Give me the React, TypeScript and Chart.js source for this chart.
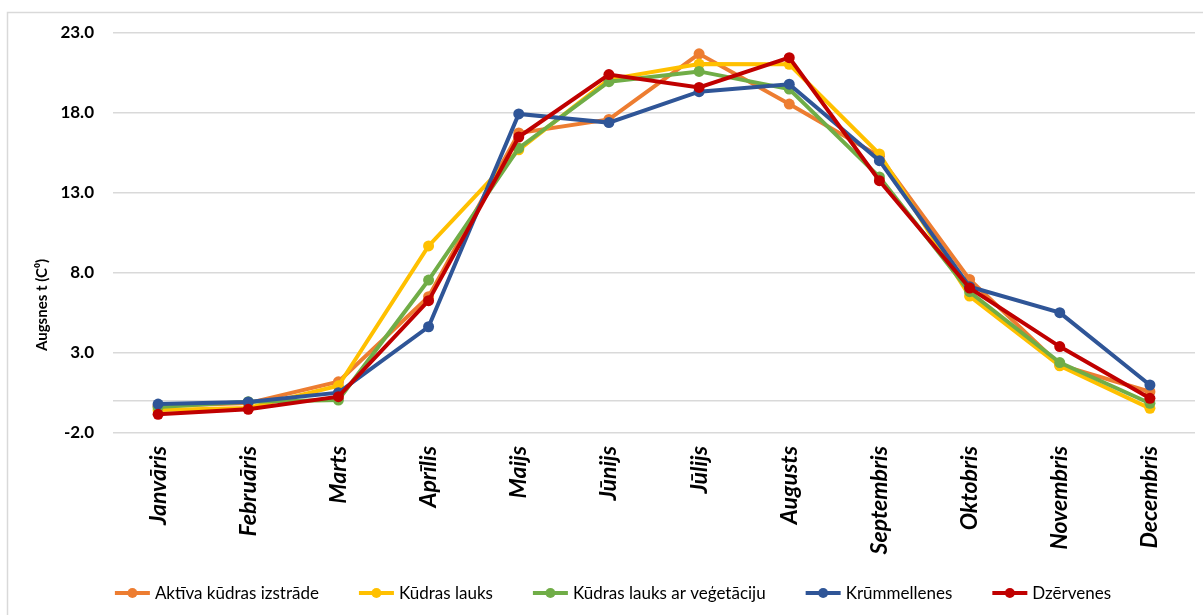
import React, { useEffect, useRef } from 'react';
import { Chart, registerables } from 'chart.js';

Chart.register(...registerables);

const months = ['Janvāris', 'Februāris', 'Marts', 'Aprīlis', 'Maijs', 'Jūnijs', 'Jūlijs', 'Augusts', 'Septembris', 'Oktobris', 'Novembris', 'Decembris'];

const seriesNames = ['Aktīva kūdras izstrāde', 'Kūdras lauks', 'Kūdras lauks ar veģetāciju', 'Krūmmellenes', 'Dzērvenes'];

const aktivaKudrasIzstrade = [-0.31, -0.13, 1.2, 6.52, 16.75, 17.6, 21.7, 18.56, 15.3, 7.6, 2.25, 0.58];
const kudrasLauks = [-0.56, -0.44, 0.95, 9.69, 15.7, 20.1, 21.06, 21.04, 15.44, 6.56, 2.2, -0.46];
const kudrasLauksArVegetaciju = [-0.38, -0.04, 0.06, 7.56, 15.8, 19.96, 20.6, 19.5, 14.0, 6.83, 2.4, -0.14];
const krummellenes = [-0.19, -0.06, 0.52, 4.64, 17.94, 17.4, 19.33, 19.8, 15.02, 7.14, 5.52, 1.0];
const dzervenes = [-0.83, -0.52, 0.27, 6.27, 16.5, 20.4, 19.6, 21.46, 13.77, 7.06, 3.4, 0.17];

const seriesColors = ['#ED7D31', '#FFC000', '#70AD47', '#2F5597', '#C00000'];

const yTicks = [-2, 0, 3, 8, 13, 18, 23];
const yTitle = 'Augsnes t (C⁰)';

const FONT = 'Lato, "Open Sans", sans-serif';
const LEGEND_LINE = 35;
const LEGEND_GAP = 40;
const LEGEND_Y = 593;
const LEGEND_CENTER_X = 613;

const decorPlugin = {
  id: 'decor',
  beforeDraw(chart: any) {
    const ctx = chart.ctx;
    ctx.save();
    ctx.strokeStyle = '#D9D9D9';
    ctx.lineWidth = 1.5;
    ctx.beginPath();
    ctx.moveTo(7.5, chart.height);
    ctx.lineTo(7.5, 12.5);
    ctx.lineTo(chart.width, 12.5);
    ctx.stroke();
    ctx.restore();
  },
  afterDraw(chart: any) {
    const ctx = chart.ctx;
    // y-axis title
    ctx.save();
    ctx.translate(42, 305);
    ctx.rotate(-Math.PI / 2);
    ctx.font = `bold 15px ${FONT}`;
    ctx.fillStyle = '#000';
    ctx.textAlign = 'center';
    ctx.textBaseline = 'middle';
    ctx.fillText(yTitle, 0, 0);
    ctx.restore();

    // legend: line + marker + text
    ctx.save();
    ctx.font = `17px ${FONT}`;
    ctx.textBaseline = 'middle';
    ctx.textAlign = 'left';
    const items = chart.data.datasets.map((ds: any, i: number) => ({
      text: ds.label as string,
      color: seriesColors[i],
      w: ctx.measureText(ds.label).width,
    }));
    const total = items.reduce((s: number, it: any) => s + LEGEND_LINE + 5 + it.w, 0) + LEGEND_GAP * (items.length - 1);
    let x = LEGEND_CENTER_X - total / 2;
    items.forEach((it: any) => {
      ctx.strokeStyle = it.color;
      ctx.lineWidth = 4;
      ctx.beginPath();
      ctx.moveTo(x, LEGEND_Y);
      ctx.lineTo(x + LEGEND_LINE, LEGEND_Y);
      ctx.stroke();
      ctx.fillStyle = it.color;
      ctx.beginPath();
      ctx.arc(x + LEGEND_LINE / 2, LEGEND_Y, 5, 0, Math.PI * 2);
      ctx.fill();
      ctx.fillStyle = '#000';
      ctx.fillText(it.text, x + LEGEND_LINE + 5, LEGEND_Y + 1);
      x += LEGEND_LINE + 5 + it.w + LEGEND_GAP;
    });
    ctx.restore();
  },
};

export default function App() {
  const canvasRef = useRef<HTMLCanvasElement | null>(null);

  useEffect(() => {
    document.body.style.margin = '0';
    const seriesData = [aktivaKudrasIzstrade, kudrasLauks, kudrasLauksArVegetaciju, krummellenes, dzervenes];
    const drawOrder = [4, 3, 2, 1, 0];
    const chart = new Chart(canvasRef.current as HTMLCanvasElement, {
      type: 'line',
      data: {
        labels: months,
        datasets: seriesNames.map((name, i) => ({
          label: name,
          data: seriesData[i],
          borderColor: seriesColors[i],
          backgroundColor: seriesColors[i],
          pointBackgroundColor: seriesColors[i],
          pointBorderColor: seriesColors[i],
          borderWidth: 4,
          pointRadius: 5.5,
          pointBorderWidth: 0,
          tension: 0,
          fill: false,
          order: drawOrder[i],
        })),
      },
      options: {
        animation: false,
        responsive: false,
        maintainAspectRatio: false,
        layout: { padding: { left: 7, right: 8, top: 33, bottom: 40 } },
        plugins: {
          tooltip: { enabled: false },
          legend: { display: false },
        },
        scales: {
          x: {
            offset: true,
            grid: { display: false, offset: true },
            border: { display: false },
            ticks: {
              minRotation: 90,
              maxRotation: 90,
              padding: 5,
              color: '#000',
              font: { family: FONT, size: 23, weight: 'bold', style: 'italic' },
            },
            afterFit: (scale: any) => {
              scale.height = 142;
            },
          },
          y: {
            min: -2,
            max: 23,
            border: { display: false },
            grid: { color: '#D9D9D9', lineWidth: 1.5, drawTicks: false },
            afterBuildTicks: (scale: any) => {
              scale.ticks = yTicks.map((v) => ({ value: v }));
            },
            ticks: {
              padding: 19,
              color: '#000',
              font: { family: FONT, size: 17, weight: 'bold' },
              callback: (v: any) => (Number(v) === 0 ? '' : Number(v).toFixed(1)),
            },
            afterFit: (scale: any) => {
              scale.width = 106;
            },
          },
        },
      },
      plugins: [decorPlugin],
    } as any);
    return () => chart.destroy();
  }, []);

  return (
    <div style={{ width: 1203, height: 615 }}>
      <canvas ref={canvasRef} width={1203} height={615} style={{ display: 'block' }} />
    </div>
  );
}
